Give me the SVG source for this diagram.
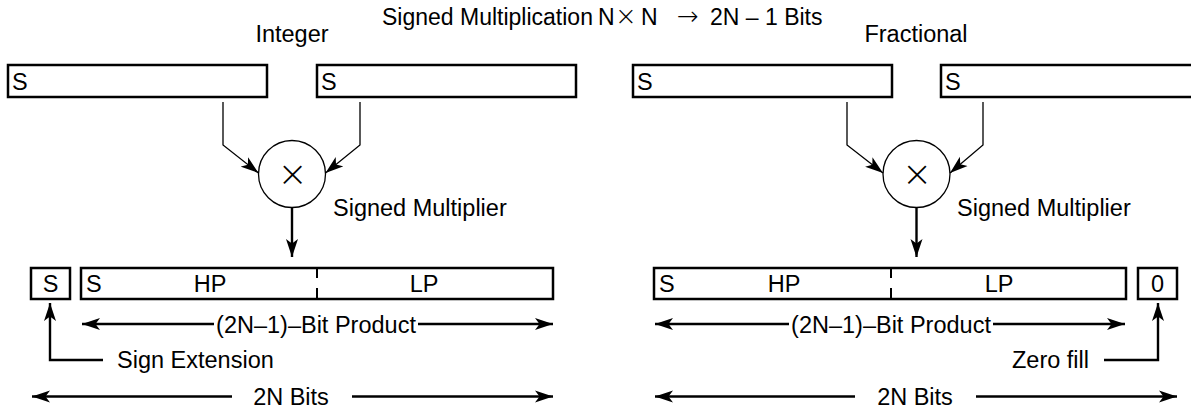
<svg xmlns="http://www.w3.org/2000/svg" width="1191" height="411" viewBox="0 0 1191 411">
<style>
  text { font-family: "Liberation Sans", Arial, Helvetica, sans-serif; font-size: 23.5px; fill: #000; }
  .mid { text-anchor: middle; }
  .end { text-anchor: end; }
  .box { fill: #fff; stroke: #000; stroke-width: 2.5; }
  .thin { fill: none; stroke: #000; stroke-width: 1.3; }
  .thick { fill: none; stroke: #000; stroke-width: 2.4; }
  .div { stroke: #000; stroke-width: 2; }
  .title { font-size: 23px; }
  .sym { font-family: "DejaVu Sans", sans-serif; font-weight: 200; font-size: 26px; }
  .op { font-family: "DejaVu Sans", sans-serif; font-weight: 200; font-size: 36px; }
</style>
<defs>
  <marker id="ah" viewBox="0 0 18 13" refX="18" refY="6.5" markerWidth="18" markerHeight="13" markerUnits="userSpaceOnUse" orient="auto">
    <path d="M18,6.5 L0,0.5 L4.5,6.5 L0,12.5 Z" fill="#000"/>
  </marker>
</defs>

<text class="title" y="25"><tspan x="382">Signed Multiplication</tspan><tspan x="598">N</tspan><tspan class="sym" x="615">×</tspan><tspan x="641">N</tspan><tspan class="sym" x="677">→</tspan><tspan x="710">2N – 1 Bits</tspan></text>
<text class="mid" x="292" y="42">Integer</text>
<text class="mid" x="916" y="42">Fractional</text>

<!-- Integer side -->
<g id="int-a">
  <rect class="box" x="8" y="65" width="259" height="32"/>
  <text x="12" y="90">S</text>
</g>
<g id="int-b">
  <rect class="box" x="317" y="65" width="259" height="32"/>
  <text x="321" y="90">S</text>
</g>
<g id="int-mult">
  <circle class="thin" cx="292" cy="174" r="33.5" fill="#fff"/>
  <text class="mid op" x="292.5" y="186">×</text>
  <text x="333" y="216">Signed Multiplier</text>
</g>
<g id="int-sext">
  <rect class="box" x="31" y="268" width="39" height="31"/>
  <text class="mid" x="50.5" y="292">S</text>
</g>
<g id="int-prod">
  <rect class="box" x="81" y="268" width="472" height="31"/>
  <line class="div" x1="317" y1="268" x2="317" y2="278"/>
  <line class="div" x1="317" y1="288" x2="317" y2="299"/>
  <text x="86" y="292">S</text>
  <text class="mid" x="210" y="292">HP</text>
  <text class="mid" x="424" y="292">LP</text>
</g>
<text class="mid" x="316" y="332.5">(2N–1)–Bit Product</text>
<text x="117" y="368">Sign Extension</text>
<text class="mid" x="291" y="405">2N Bits</text>

<!-- Fractional side -->
<g id="frac-a">
  <rect class="box" x="633" y="65" width="259" height="32"/>
  <text x="637" y="90">S</text>
</g>
<g id="frac-b">
  <rect class="box" x="941" y="65" width="270" height="32"/>
  <text x="945" y="90">S</text>
</g>
<g id="frac-mult">
  <circle class="thin" cx="916.5" cy="174" r="33.5" fill="#fff"/>
  <text class="mid op" x="917" y="186">×</text>
  <text x="957" y="216">Signed Multiplier</text>
</g>
<g id="frac-prod">
  <rect class="box" x="654" y="268" width="472" height="31"/>
  <line class="div" x1="891" y1="268" x2="891" y2="278"/>
  <line class="div" x1="891" y1="288" x2="891" y2="299"/>
  <text x="659" y="292">S</text>
  <text class="mid" x="784" y="292">HP</text>
  <text class="mid" x="999" y="292">LP</text>
</g>
<g id="frac-zero">
  <rect class="box" x="1138" y="268" width="39" height="31"/>
  <text class="mid" x="1157.5" y="292">0</text>
</g>
<text class="mid" x="891" y="332.5">(2N–1)–Bit Product</text>
<text class="end" x="1089" y="368">Zero fill</text>
<text class="mid" x="915" y="405">2N Bits</text>

<g id="connectors">
  <path class="thin" d="M223,102 V145 L258.5,173" marker-end="url(#ah)"/>
  <path class="thin" d="M360,102 V145 L325.5,173" marker-end="url(#ah)"/>
  <path class="thick" d="M292,207.5 V257" marker-end="url(#ah)"/>
  <path class="thick" d="M214,324 H82" marker-end="url(#ah)"/>
  <path class="thick" d="M418,324 H553" marker-end="url(#ah)"/>
  <path class="thick" d="M103,360 H50 V303" marker-end="url(#ah)"/>
  <path class="thick" d="M232,396.5 H32" marker-end="url(#ah)"/>
  <path class="thick" d="M352,396.5 H553" marker-end="url(#ah)"/>

  <path class="thin" d="M847,102 V145 L883,173" marker-end="url(#ah)"/>
  <path class="thin" d="M983,102 V145 L950,173" marker-end="url(#ah)"/>
  <path class="thick" d="M916.5,207.5 V257" marker-end="url(#ah)"/>
  <path class="thick" d="M789,324 H655" marker-end="url(#ah)"/>
  <path class="thick" d="M993,324 H1125" marker-end="url(#ah)"/>
  <path class="thick" d="M1104,360 H1158 V303" marker-end="url(#ah)"/>
  <path class="thick" d="M855,396.5 H655" marker-end="url(#ah)"/>
  <path class="thick" d="M976,396.5 H1177" marker-end="url(#ah)"/>
</g>
</svg>
